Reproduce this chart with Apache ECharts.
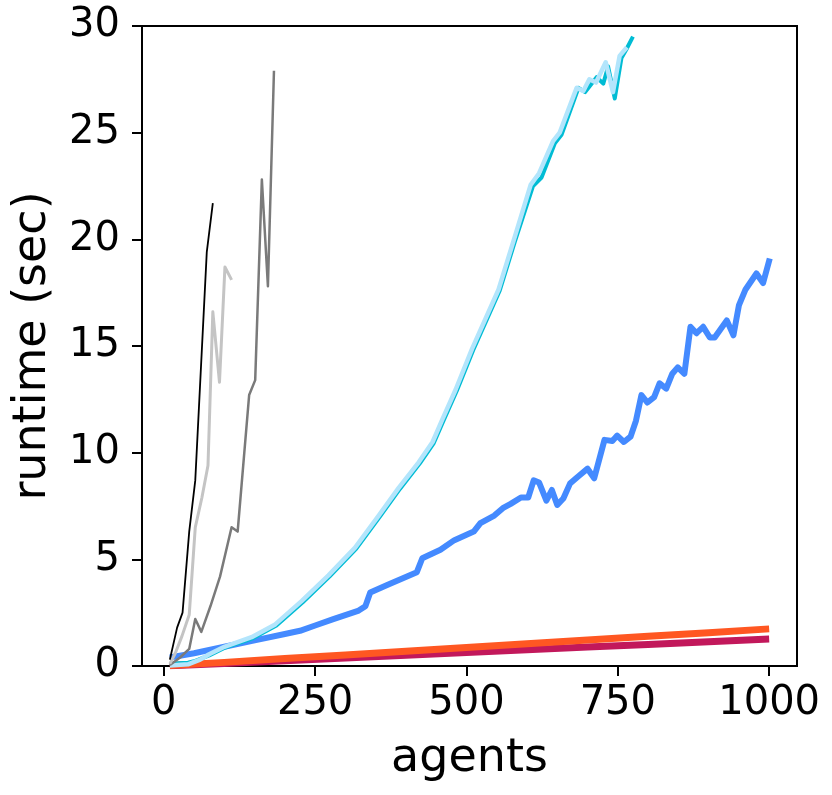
<!DOCTYPE html>
<html>
<head>
<meta charset="utf-8">
<script src="https://cdn.jsdelivr.net/npm/echarts@6/dist/echarts.min.js"></script>
<style>
html,body{margin:0;padding:0;background:#fff;}
#chart{width:832px;height:795px;}
</style>
</head>
<body>
<div id="chart"></div>
<script>
var xTicks = [0, 250, 500, 750, 1000];
var yTicks = [0, 5, 10, 15, 20, 25, 30];

var blackData = [[10,0.3],[22,1.8],[31,2.5],[42,6.3],[52,8.7],[63,14.9],[71,19.4],[81,21.7]];
var lightGrayData = [[10,0.1],[19,0.6],[30,1.4],[42,2.4],[52,6.5],[63,7.9],[73,9.4],[81,16.6],[92,13.3],[101,18.7],[112,18.1]];
var darkGrayData = [[10,0.05],[27,0.4],[42,0.8],[52,2.2],[62,1.6],[77,2.8],[93,4.2],[112,6.5],[122,6.3],[141,12.7],[151,13.4],[162,22.8],[172,17.8],[182,27.9]];
var blueData = [[10,0.4],[50,0.6],[100,0.9],[150,1.2],[200,1.5],[225,1.65],[250,1.9],[280,2.2],[322,2.6],[333,2.8],[341,3.45],[369,3.8],[418,4.4],[427,5.05],[457,5.45],[480,5.9],[512,6.3],[523,6.7],[546,7.05],[560,7.4],[573,7.6],[590,7.9],[602,7.9],[611,8.7],[620,8.6],[632,7.75],[641,8.25],[650,7.55],[660,7.85],[671,8.55],[683,8.85],[700,9.25],[711,8.8],[728,10.6],[741,10.55],[749,10.8],[760,10.5],[771,10.75],[780,11.5],[789,12.7],[799,12.35],[810,12.6],[819,13.25],[830,13.0],[840,13.7],[849,14.0],[860,13.7],[870,15.9],[880,15.6],[891,15.9],[902,15.4],[910,15.4],[930,16.2],[941,15.5],[950,16.9],[961,17.65],[979,18.4],[990,17.95],[1001,19.1]];
var cyanData = [[10,0.1],[40,0.15],[50,0.22],[75,0.5],[100,0.85],[147,1.3],[186,1.9],[230,3.0],[274,4.2],[318,5.5],[357,7.0],[390,8.3],[423,9.5],[446,10.45],[462,11.5],[484,12.9],[511,14.8],[555,17.6],[580,19.9],[610,22.5],[624,22.9],[646,24.5],[657,24.9],[685,27.1],[696,26.9],[715,27.6],[726,27.3],[734,28.1],[745,26.6],[756,28.5],[764,28.9],[775,29.5]];
var lightBlueData = [[10,0.02],[40,0.08],[60,0.3],[75,0.55],[100,0.9],[145,1.35],[184,1.95],[228,3.05],[272,4.25],[316,5.55],[355,7.05],[388,8.35],[421,9.55],[444,10.5],[460,11.55],[482,12.95],[509,14.85],[553,17.65],[578,19.95],[606,22.55],[620,23.1],[643,24.6],[654,25.0],[682,27.1],[693,26.95],[703,27.5],[714,27.35],[730,28.3],[742,26.9],[753,28.6],[765,29.0]];
var orangeData = [[10,0.02],[100,0.17],[200,0.35],[300,0.52],[400,0.69],[500,0.87],[600,1.04],[700,1.22],[800,1.39],[900,1.56],[1000,1.74]];
var crimsonData = [[10,0.01],[100,0.12],[200,0.25],[300,0.38],[400,0.5],[500,0.63],[600,0.76],[700,0.89],[800,1.01],[900,1.14],[1000,1.27]];

function line(data, color, width) {
  return {
    type: 'line', data: data, showSymbol: false, symbol: 'none', animation: false,
    lineStyle: {color: color, width: width, join: 'round', cap: 'butt'},
    itemStyle: {color: color}, silent: true
  };
}

var FONT = 'DejaVu Sans';
var chart = echarts.init(document.getElementById('chart'), null, {renderer: 'canvas'});
chart.setOption({
  backgroundColor: '#ffffff',
  animation: false,
  grid: {left: 142, right: 35, top: 26, bottom: 129, show: true, borderColor: '#000', borderWidth: 2, backgroundColor: 'transparent'},
  xAxis: {
    type: 'value', min: -36, max: 1046,
    name: 'agents', nameLocation: 'middle', nameGap: 70,
    nameTextStyle: {fontFamily: FONT, fontSize: 46, color: '#000'},
    axisLine: {show: true, onZero: false, lineStyle: {color: '#000', width: 2}},
    splitLine: {show: false},
    axisTick: {show: true, length: 10, inside: false, lineStyle: {color: '#000', width: 2}, customValues: xTicks},
    axisLabel: {fontFamily: FONT, fontSize: 40, color: '#000', margin: 18, customValues: xTicks, formatter: function (v) { return String(v); }}
  },
  yAxis: {
    type: 'value', min: 0, max: 30, interval: 5,
    name: 'runtime (sec)', nameLocation: 'middle', nameGap: 86, nameRotate: 90,
    nameTextStyle: {fontFamily: FONT, fontSize: 46, color: '#000'},
    axisLine: {show: true, onZero: false, lineStyle: {color: '#000', width: 2}},
    splitLine: {show: false},
    axisTick: {show: true, length: 10, inside: false, lineStyle: {color: '#000', width: 2}, customValues: yTicks},
    axisLabel: {fontFamily: FONT, fontSize: 40, color: '#000', margin: 22, customValues: yTicks, formatter: function (v) { return String(v); }}
  },
  series: [
    line(crimsonData, '#c2185b', 7),
    line(orangeData, '#ff5722', 7),
    line(blueData, '#448aff', 6),
    line(cyanData, '#00bcd4', 4),
    line(lightBlueData, '#b3e5fc', 4.5),
    line(darkGrayData, '#7a7a7a', 2.5),
    line(lightGrayData, '#c4c4c4', 3),
    line(blackData, '#000000', 1.8)
  ]
});
</script>
</body>
</html>
